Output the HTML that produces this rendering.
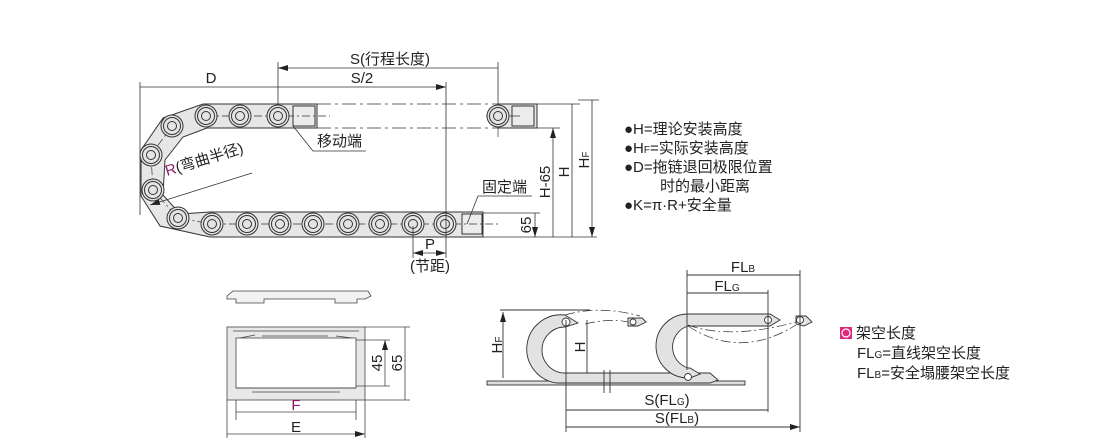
<!DOCTYPE html>
<html><head><meta charset="utf-8"><style>
body{margin:0;background:#fff}
svg{display:block}
text{font-family:"Liberation Sans","Noto Sans CJK SC",sans-serif;fill:#222}
</style></head><body>
<svg width="1110" height="440" viewBox="0 0 1110 440" xmlns="http://www.w3.org/2000/svg">
<defs>
<marker id="a" viewBox="0 0 10 6" refX="10" refY="3" markerWidth="10" markerHeight="6" orient="auto-start-reverse" markerUnits="userSpaceOnUse"><path d="M0,0L10,3L0,6z" fill="#222"/></marker>
<g id="lk"><circle r="11" fill="#e4e4e4" stroke="#333" stroke-width="1"/><circle r="8.5" fill="none" stroke="#333" stroke-width="1"/><circle r="4.5" fill="none" stroke="#333" stroke-width="1"/></g>
</defs>
<g stroke="#333" stroke-width="1" fill="none">
<path d="M203,104 L317,104 L317,128 L207,128 L183,137 L165,160 L163,195 L180,214 L210,212 L483,212 L483,237 L210,237 L160,226 L141,196 L141,150 L163,118 Z" fill="#e6e6e6"/>
<rect x="293" y="106" width="22" height="20" fill="#ececec"/>
<rect x="462" y="214" width="20" height="20" fill="#ececec"/>
<path d="M498,104 L537,104 L537,128 L498,128" fill="#e6e6e6"/>
<rect x="512" y="106" width="22" height="20" fill="#ececec"/>
<path d="M206,116 L330,116 M172,126 L151,155 L153,190 L178,218 L212,224 L500,224" stroke-dasharray="8,3,2,3" stroke-width="0.7"/>
<path d="M317,104 L498,104 M317,128 L498,128" stroke-dasharray="14,4,3,4" stroke-width="0.8"/>
<path d="M486,116 L520,116 M498,104 L498,137" stroke-width="0.7"/>
</g>
<use href="#lk" x="206" y="116"/><use href="#lk" x="240" y="116"/><use href="#lk" x="278" y="116"/>
<use href="#lk" x="172" y="126"/><use href="#lk" x="151" y="155"/><use href="#lk" x="153" y="190"/><use href="#lk" x="178" y="218"/>
<use href="#lk" x="212" y="224"/><use href="#lk" x="247" y="224"/><use href="#lk" x="280" y="224"/><use href="#lk" x="313" y="224"/><use href="#lk" x="348" y="224"/><use href="#lk" x="380" y="224"/><use href="#lk" x="413" y="224"/><use href="#lk" x="445" y="224"/>
<use href="#lk" x="498" y="116"/>
<g stroke="#333" stroke-width="0.8" fill="none">
<path d="M140,82 L140,215 M278,62 L278,104 M446,82 L446,258 M498,62 L498,104"/>
<path d="M278,68 L498,68 M140,87 L278,87 M278,87 L446,87" marker-start="url(#a)" marker-end="url(#a)"/>
<path d="M537,104 L580,104 M537,128 L560,128 M483,237 L597,237 M483,213 L540,213 M578,100 L599,100"/>
<path d="M553,128 L553,237 M572,104 L572,237 M592,100 L592,237" marker-start="url(#a)" marker-end="url(#a)"/>
<path d="M535,213 L535,237" marker-end="url(#a)"/>
<path d="M413,226 L413,258"/>
<path d="M413,253 L446,253" marker-start="url(#a)" marker-end="url(#a)"/>
<path d="M293,126 L313,151 L366,151 M467,224 L478,196 L532,196"/>
<path d="M252,173 L150,205" marker-end="url(#a)"/>
</g>
<g font-size="15">
<text x="390" y="64" text-anchor="middle">S(行程长度)</text>
<text x="211" y="83" text-anchor="middle">D</text>
<text x="362" y="83" text-anchor="middle">S/2</text>
<text x="317" y="146">移动端</text>
<text x="482" y="192">固定端</text>
<text x="430" y="249" text-anchor="middle">P</text>
<text x="430" y="271" text-anchor="middle">(节距)</text>
<text transform="translate(167,176) rotate(-17)"><tspan fill="#8a1a6a">R</tspan>(弯曲半径)</text>
<text transform="translate(550,182) rotate(-90)" text-anchor="middle">H-65</text>
<text transform="translate(569,172) rotate(-90)" text-anchor="middle">H</text>
<text transform="translate(589,160) rotate(-90)" text-anchor="middle">H<tspan font-size="10">F</tspan></text>
<text transform="translate(531,225) rotate(-90)" text-anchor="middle">65</text>
</g>
<g font-size="15">
<text x="624" y="134">●H=理论安装高度</text>
<text x="624" y="153">●H<tspan font-size="10">F</tspan>=实际安装高度</text>
<text x="624" y="172">●D=拖链退回极限位置</text>
<text x="660" y="191">时的最小距离</text>
<text x="624" y="210">●K=π·R+安全量</text>
</g>
<g stroke="#444" stroke-width="0.8" fill="none">
<path d="M227,296 L233,291 L368,291 L371,296 L365,299 L357,299 L357,303 L335,303 L335,299 L264,299 L264,303 L236,303 L236,299 L227,299 Z" fill="#f2f2f2"/>
<rect x="227" y="327" width="138" height="73" fill="#e8e8e8"/>
<rect x="236" y="338" width="120" height="50" fill="#fff"/>
<path d="M233,331 L359,331 M240,338 L255,335 M262,336 L328,336 M336,336 L352,338 M236,388 L356,388 M252,392 L340,392"/>
<path d="M365,327 L410,327 M365,400 L410,400 M356,340 L390,340 M356,386 L390,386 M236,400 L236,420 M356,400 L356,420 M227,400 L227,438 M365,400 L365,438"/>
<path d="M385,340 L385,386 M405,327 L405,400 M236,412 L356,412 M227,434 L365,434" marker-start="url(#a)" marker-end="url(#a)"/>
</g>
<text x="296" y="410" text-anchor="middle" font-size="15" style="fill:#8a1a6a">F</text>
<text x="296" y="432" text-anchor="middle" font-size="15">E</text>
<text transform="translate(382,363) rotate(-90)" text-anchor="middle" font-size="15">45</text>
<text transform="translate(402,363) rotate(-90)" text-anchor="middle" font-size="15">65</text>
<g stroke="#333" stroke-width="0.9" fill="none">
<rect x="487" y="381" width="258" height="4" fill="#ddd"/>
<path d="M565,315 A34,34 0 0 0 557,383 L710,383 L718,380 L710,373 L565,373 A23,23 0 0 1 565,327 L578,323 Z" fill="#e2e2e2"/>
<path d="M688,314 A32,32 0 0 0 688,378 L690,378 L700,374 L690,368 L688,368 A22,22 0 0 1 688,326 L770,326 L780,320 L770,314 Z" fill="#e2e2e2"/>
<circle cx="566" cy="322" r="4" fill="#fff"/>
<path d="M628,318 L642,318 L646,322 L638,326 L628,326 Z" fill="#e2e2e2"/>
<circle cx="633" cy="322" r="3" fill="#fff"/>
<circle cx="688" cy="377" r="3.5" fill="#fff"/><circle cx="768" cy="320" r="3.5" fill="#fff"/>
<path d="M796,316 L806,316 L812,322 L804,326 L796,324 Z" fill="#e2e2e2"/><circle cx="800" cy="320" r="3.5" fill="#fff"/>
<path d="M565,315 Q600,305 640,316 M585,324 Q610,318 628,322 M688,325 Q730,340 796,322 M688,326 Q740,360 796,325" stroke-dasharray="10,3,2,3" stroke-width="0.7"/>
<path d="M604,370 L604,393 M610,370 L610,393" />
<path d="M500,310 L590,310 M566,320 L566,432 M687,270 L687,370 M768,290 L768,412 M800,270 L800,432"/>
<path d="M503,312 L503,378 M587,320 L587,373 M687,275 L800,275 M687,293 L768,293 M566,410 L768,410 M566,427 L800,427" marker-start="url(#a)" marker-end="url(#a)"/>
</g>
<g font-size="15">
<text x="743" y="272" text-anchor="middle">FL<tspan font-size="10">B</tspan></text>
<text x="727" y="291" text-anchor="middle">FL<tspan font-size="10">G</tspan></text>
<text x="667" y="405" text-anchor="middle">S(FL<tspan font-size="10">G</tspan>)</text>
<text x="677" y="423" text-anchor="middle">S(FL<tspan font-size="10">B</tspan>)</text>
<text transform="translate(502,345) rotate(-90)" text-anchor="middle">H<tspan font-size="10">F</tspan></text>
<text transform="translate(585,347) rotate(-90)" text-anchor="middle">H</text>
</g>
<rect x="840" y="327" width="12" height="12" fill="#e0297a"/><circle cx="846" cy="333" r="4" fill="none" stroke="#fff" stroke-width="1.2"/>
<g font-size="15">
<text x="856" y="338">架空长度</text>
<text x="857" y="358">FL<tspan font-size="10">G</tspan>=直线架空长度</text>
<text x="857" y="378">FL<tspan font-size="10">B</tspan>=安全塌腰架空长度</text>
</g>
</svg>
</body></html>
